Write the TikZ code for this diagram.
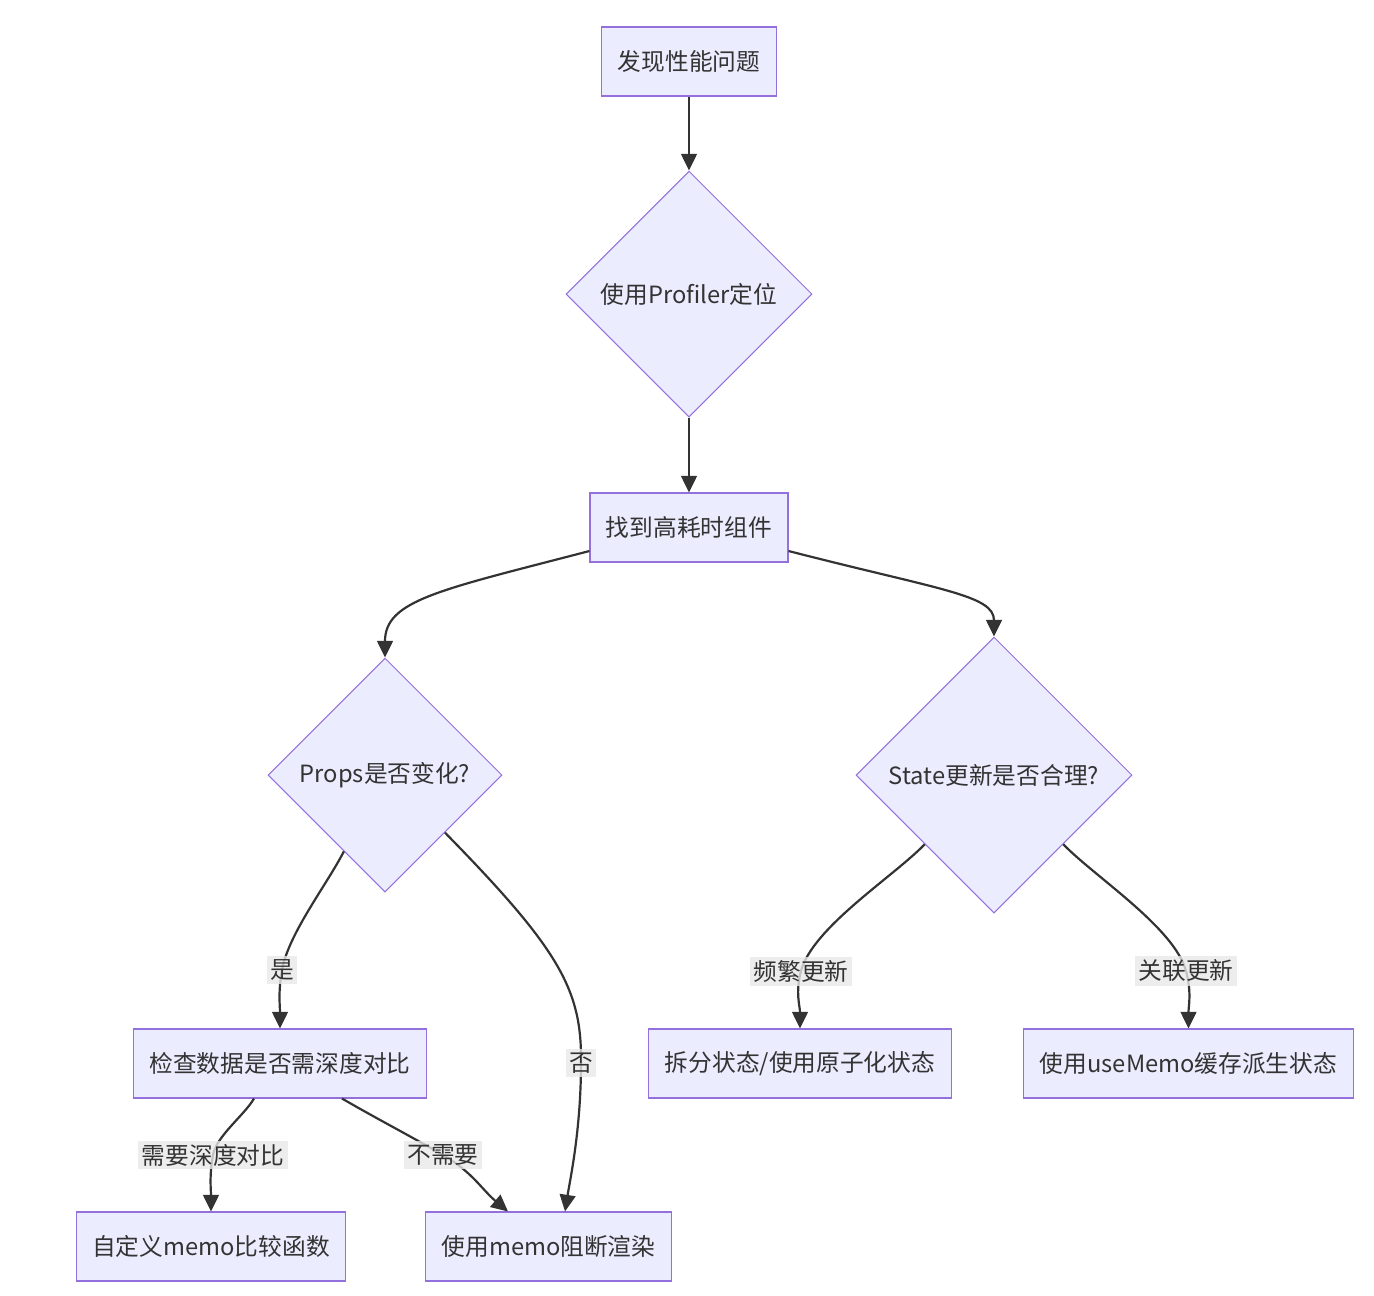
\documentclass[tikz,border=0pt]{standalone}
\usepackage{fontspec}
\setmainfont{Noto Sans CJK SC}
\usetikzlibrary{shapes.geometric,arrows.meta,calc}
\definecolor{mmfill}{HTML}{ECECFF}
\definecolor{mmstroke}{HTML}{9370DB}
\definecolor{mmline}{HTML}{333333}
\definecolor{mmlabel}{HTML}{E8E8E8}

\begin{document}
\begin{tikzpicture}[x=0.02cm, y=-0.02cm, line width=1.25pt,
    font=\fontsize{13.5}{16}\selectfont, text=mmline,
    stepbox/.style={draw=mmstroke, fill=mmfill, line width=0.6pt, inner xsep=0.32cm, minimum height=1.38cm},
    choice/.style={draw=mmstroke, fill=mmfill, line width=0.6pt, diamond, aspect=1, inner sep=0pt},
    flow/.style={draw=mmline, -{Triangle[length=9.5pt, width=9pt]}},
    lbl/.style={fill=mmlabel, fill opacity=0.8, text opacity=1, inner sep=2pt}]
  \useasboundingbox (0,0) rectangle (1374,1296);
  % top of the flow
  \node[stepbox] (found) at (689,61.5) {发现性能问题};
  \node[choice, minimum width=4.92cm, minimum height=4.92cm] (profiler) at (689,294) {使用Profiler定位};
  \node[stepbox] (slow) at (689,527.5) {找到高耗时组件};
  % the two checks
  \node[choice, minimum width=4.68cm, minimum height=4.68cm] (props) at (385,775) {Props是否变化?};
  \node[choice, minimum width=5.52cm, minimum height=5.52cm] (state) at (994,775) {State更新是否合理?};
  % outcomes
  \node[stepbox] (deep) at (280,1063.5) {检查数据是否需深度对比};
  \node[stepbox] (split) at (800,1063.5) {拆分状态/使用原子化状态};
  \node[stepbox] (usememo) at (1188.5,1063.5) {使用useMemo缓存派生状态};
  \node[stepbox] (custom) at (211,1246.5) {自定义memo比较函数};
  \node[stepbox] (memo) at (548.5,1246.5) {使用memo阻断渲染};

  % connectors
  \draw[flow] (found) -- (profiler);
  \draw[flow] (profiler) -- (slow);
  \draw[flow] ($(slow.west)+(0,23.5)$) .. controls (440,590) and (385,600) .. (props.north);
  \draw[flow] ($(slow.east)+(0,23.5)$) .. controls (940,590) and (994,595) .. (state.north);
  \draw[flow] ($(props.west)!0.65!(props.south)$) to[out=243, in=80, looseness=0.7] (282,970) node[lbl] {是}
    to[out=-100, in=90] (deep.north);
  \draw[flow] ($(props.east)!0.49!(props.south)$) .. controls (560,950) and (582,990) .. (581,1063)
    node[lbl] {否} .. controls (581,1130) and (570,1180) .. ($(memo.north)+(16.5,0)$);
  \draw[flow] ($(state.west)!0.5!(state.south)$) to[out=226, in=75, looseness=0.65] (801,971) node[lbl] {频繁更新}
    to[out=-105, in=90] (split.north);
  \draw[flow] ($(state.east)!0.5!(state.south)$) to[out=-46, in=105, looseness=0.65] (1186,971) node[lbl] {关联更新}
    to[out=-75, in=90] (usememo.north);
  \draw[flow] ($(deep.south)+(-26,0)$) to[out=240, in=80, looseness=0.7] (213,1155) node[lbl] {需要深度对比}
    to[out=-100, in=90] (custom.north);
  \draw[flow] ($(deep.south)+(62,0)$) to[out=-30, in=150] (443,1155) node[lbl] {不需要}
    to[out=-30, in=140] ($(memo.north)+(-40.5,0)$);
\end{tikzpicture}
\end{document}
